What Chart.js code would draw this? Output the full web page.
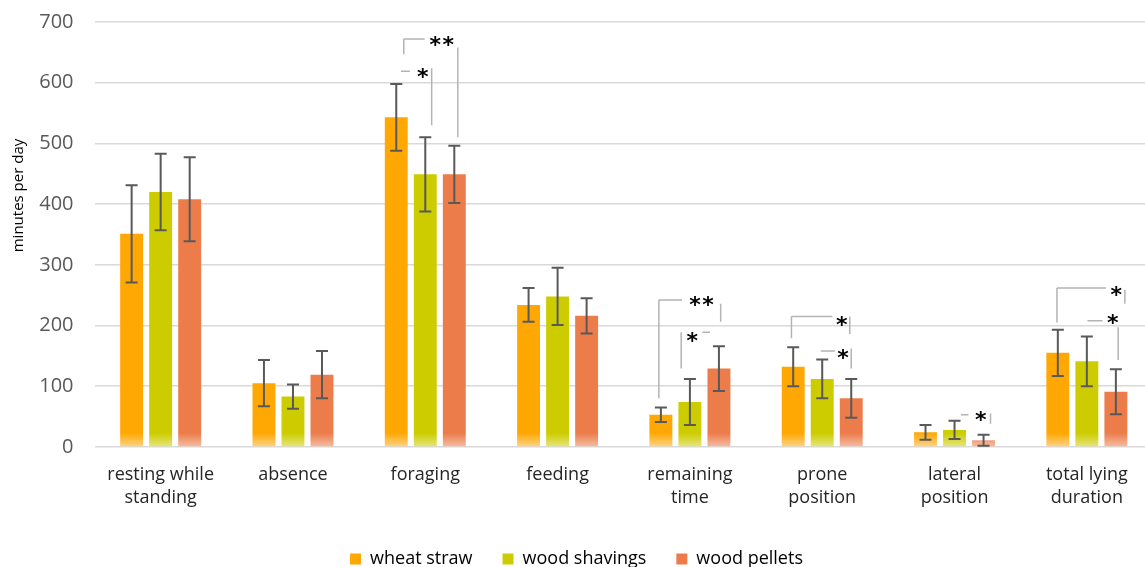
<!DOCTYPE html>
<html>
<head>
<meta charset="utf-8">
<script src="https://cdn.jsdelivr.net/npm/chart.js@4/dist/chart.umd.min.js"></script>
<style>
html,body{margin:0;padding:0;background:#fff;overflow:hidden}
#wrap{width:1156px;height:567px}
</style>
</head>
<body>
<div id="wrap"><canvas id="barChart"></canvas></div>
<script>
"use strict"
//categories and series
var categories = [["resting while","standing"],"absence","foraging","feeding",["remaining","time"],["prone","position"],["lateral","position"],["total lying","duration"]];
var seriesNames = ["wheat straw","wood shavings","wood pellets"];
var wheatStraw = [351,105,543,234,53,132,24,155];
var woodShavings = [420,83,449,248,74,112,28,141];
var woodPellets = [408,119,449,216,129,80,11,91];
//error bar half widths (sd)
var wheatStrawSd = [80,38,55,28,12,32,12,38];
var woodShavingsSd = [63,20,61,47,38,32,15,41];
var woodPelletsSd = [69,39,47,29,37,32,9,37];
var yTicks = [0,100,200,300,400,500,600,700];

var colors = ["#FFA702","#CCCC00","#EC7C4A"];
var lightColors = ["#FFD488","#E6E680","#F6BEA4"];

//significance brackets: x offsets in bar widths from category centre, y in minutes
var brackets = [
  {cat:2, legs:[[-0.74,647,672],[1.12,658,510]], lines:[[-0.74,-0.02,672]], label:[0.57,668,"**"]},
  {cat:2, legs:[[0.22,624,530]], lines:[[-0.84,-0.53,619]], label:[-0.09,616,"*"]},
  {cat:4, legs:[[-1.07,80,242],[1.06,236,206]], lines:[[-1.07,-0.27,242]], label:[0.40,240,"**"]},
  {cat:4, legs:[[-0.30,129,189]], lines:[[0.43,0.69,189]], label:[0.08,181,"*"]},
  {cat:5, legs:[[-1.06,179,215],[0.95,215,186]], lines:[[-1.06,0.35,215]], label:[0.67,207,"*"]},
  {cat:5, legs:[[1.00,162,129]], lines:[[-0.05,0.44,158]], label:[0.72,152,"*"]},
  {cat:6, legs:[[1.24,55,38]], lines:[[0.22,0.48,53]], label:[0.90,50,"*"]},
  {cat:7, legs:[[-1.03,205,262],[1.31,259,236]], lines:[[-1.03,0.66,262]], label:[1.01,256,"*"]},
  {cat:7, legs:[[1.08,197,143]], lines:[[0.02,0.54,208]], label:[0.89,211,"*"]}
];

function barFill(i) {//slight fade at the foot of each bar
  return function(context) {
    var area = context.chart.chartArea;
    if (!area) return colors[i];
    var g = context.chart.ctx.createLinearGradient(0, area.bottom, 0, area.bottom - 14);
    g.addColorStop(0, lightColors[i]);
    g.addColorStop(1, colors[i]);
    return g;
  };
}

var errorBars = {
  id: "errorBars",
  afterDatasetsDraw: function(chart) {
    var ctx = chart.ctx, y = chart.scales.y;
    var sds = [wheatStrawSd, woodShavingsSd, woodPelletsSd];
    ctx.save();
    ctx.strokeStyle = "#595959";
    ctx.lineWidth = 2;
    chart.data.datasets.forEach(function(ds, i) {
      chart.getDatasetMeta(i).data.forEach(function(bar, j) {
        var hi = y.getPixelForValue(ds.data[j] + sds[i][j]);
        var lo = y.getPixelForValue(Math.max(0, ds.data[j] - sds[i][j]));
        ctx.beginPath();
        ctx.moveTo(bar.x, hi); ctx.lineTo(bar.x, lo);
        ctx.moveTo(bar.x - 6, hi); ctx.lineTo(bar.x + 6, hi);
        ctx.moveTo(bar.x - 6, lo); ctx.lineTo(bar.x + 6, lo);
        ctx.stroke();
      });
    });
    ctx.restore();
  }
};

var sigBrackets = {
  id: "sigBrackets",
  afterDatasetsDraw: function(chart) {
    var ctx = chart.ctx, x = chart.scales.x, y = chart.scales.y;
    ctx.save();
    brackets.forEach(function(b) {
      var c = x.getPixelForValue(b.cat);
      var pitch = chart.getDatasetMeta(1).data[b.cat].x - chart.getDatasetMeta(0).data[b.cat].x;
      var px = function(o) { return c + o * pitch; };
      ctx.strokeStyle = "#B4B4B4";
      ctx.lineWidth = 1.5;
      ctx.beginPath();
      b.legs.forEach(function(l) {
        ctx.moveTo(px(l[0]), y.getPixelForValue(l[1]));
        ctx.lineTo(px(l[0]), y.getPixelForValue(l[2]));
      });
      b.lines.forEach(function(l) {
        ctx.moveTo(px(l[0]), y.getPixelForValue(l[2]));
        ctx.lineTo(px(l[1]), y.getPixelForValue(l[2]));
      });
      ctx.stroke();
      ctx.fillStyle = "#000";
      ctx.font = "bold 22px 'DejaVu Sans'";
      ctx.textAlign = "center";
      ctx.textBaseline = "middle";
      var stars = b.label[2].length, lx = px(b.label[0]), ly = y.getPixelForValue(b.label[1]) + 5;
      for (var k = 0; k < stars; k++) {//spaced asterisks
        ctx.fillText("*", lx + (k - (stars - 1) / 2) * 13, ly);
      }
    });
    ctx.restore();
  }
};

var barC = document.getElementById("barChart");
var barChart = new Chart(barC, {
  type: "bar",
  data: {
    labels: categories,
    datasets: [
      {label: seriesNames[0], data: wheatStraw, backgroundColor: barFill(0)},
      {label: seriesNames[1], data: woodShavings, backgroundColor: barFill(1)},
      {label: seriesNames[2], data: woodPellets, backgroundColor: barFill(2)}
    ]
  },
  plugins: [errorBars, sigBrackets],
  options: {
    responsive: true,
    maintainAspectRatio: false,
    animation: false,
    categoryPercentage: 0.658,
    barPercentage: 0.79,
    layout: {padding: {top: 22, right: 3, bottom: -11, left: 0}},
    plugins: {
      tooltip: {enabled: false},
      legend: {
        position: "bottom",
        labels: {
          boxWidth: 11,
          boxHeight: 11,
          padding: 30,
          color: "#262626",
          font: {family: "'Open Sans'", size: 18},
          generateLabels: function(chart) {
            return seriesNames.map(function(n, i) {
              return {text: n, fillStyle: colors[i], strokeStyle: colors[i], lineWidth: 0, datasetIndex: i};
            });
          }
        }
      }
    },
    scales: {
      x: {
        grid: {display: false},
        border: {display: false},
        afterFit: function(s) { s.height += 3; },
        ticks: {
          color: "#262626",
          font: {family: "'Open Sans'", size: 18, lineHeight: 1.28},
          padding: 8,
          maxRotation: 0,
          autoSkip: false
        }
      },
      y: {
        min: 0,
        max: 700,
        afterBuildTicks: function(s) { s.ticks = yTicks.map(function(v) { return {value: v}; }); },
        afterFit: function(s) { s.width = 94.5; s.paddingTop = 0; s.paddingBottom = 0; },
        grid: {color: "#D9D9D9", lineWidth: 1.5, drawTicks: false},
        border: {display: false},
        ticks: {color: "#595959", font: {family: "'Open Sans'", size: 20}, padding: 21},
        title: {
          display: true,
          text: "                    minutes per day",
          color: "#000",
          font: {family: "'Open Sans'", size: 15},
          padding: {top: 10, bottom: 0}
        }
      }
    }
  }
});
</script>
</body>
</html>
